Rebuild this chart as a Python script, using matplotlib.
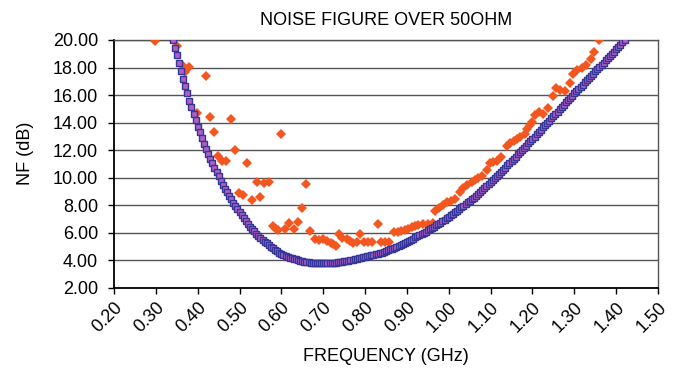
import numpy as np
import matplotlib
matplotlib.use("Agg")
import matplotlib.pyplot as plt
from matplotlib.transforms import ScaledTranslation

plt.rcParams['font.family'] = ['Liberation Sans', 'DejaVu Sans']

# measured NF, scattered points (GHz, dB)
meas_freq = [0.298, 0.351, 0.362, 0.370, 0.380, 0.399, 0.419, 0.429, 0.440, 0.449,
             0.459, 0.468, 0.480, 0.489, 0.499, 0.509, 0.519, 0.530, 0.541, 0.549,
             0.558, 0.570, 0.579, 0.587, 0.593, 0.599, 0.609, 0.618, 0.630, 0.640,
             0.649, 0.659, 0.668, 0.680, 0.690, 0.699, 0.708, 0.718, 0.724, 0.730,
             0.738, 0.746, 0.756, 0.764, 0.772, 0.781, 0.789, 0.797, 0.807, 0.816,
             0.830, 0.839, 0.848, 0.858, 0.869, 0.878, 0.886, 0.895, 0.903, 0.911,
             0.919, 0.927, 0.939, 0.951, 0.962, 0.967, 0.977, 0.987, 0.996, 1.005,
             1.015, 1.027, 1.035, 1.044, 1.055, 1.063, 1.071, 1.079, 1.091, 1.098,
             1.106, 1.116, 1.126, 1.138, 1.146, 1.156, 1.164, 1.170, 1.182, 1.188,
             1.194, 1.198, 1.206, 1.216, 1.226, 1.238, 1.248, 1.256, 1.266, 1.278,
             1.290, 1.296, 1.306, 1.318, 1.328, 1.341, 1.348, 1.360]
meas_nf = [19.90, 19.60, 18.20, 17.65, 18.06, 14.68, 17.36, 14.40, 13.35, 11.60,
           11.24, 11.24, 14.29, 12.00, 8.87, 8.75, 11.10, 8.39, 9.67, 8.63,
           9.60, 9.70, 6.50, 6.26, 6.21, 13.15, 6.28, 6.74, 6.26, 6.79,
           7.83, 9.55, 6.16, 5.53, 5.48, 5.58, 5.41, 5.29, 5.17, 5.05,
           5.90, 5.60, 5.53, 5.41, 5.29, 5.36, 5.92, 5.36, 5.36, 5.36,
           6.67, 5.36, 5.36, 5.36, 6.04, 6.09, 6.16, 6.21, 6.30, 6.40,
           6.50, 6.57, 6.64, 6.64, 6.69, 7.61, 7.78, 8.02, 8.26, 8.34,
           8.44, 8.99, 9.23, 9.47, 9.71, 9.84, 9.96, 10.13, 10.56, 11.05,
           11.17, 11.24, 11.53, 12.30, 12.50, 12.70, 12.80, 12.95, 13.15, 13.54,
           13.83, 14.02, 14.55, 14.75, 14.60, 15.04, 15.96, 16.50, 16.40, 16.30,
           16.90, 17.55, 17.80, 18.00, 18.18, 18.60, 19.10, 20.00]

# calculated NF curve, 5 MHz grid starting at 0.340 GHz
calc_start = 0.34
calc_step = 0.005
calc_nf = [20.00, 19.43, 18.88, 18.30, 17.75, 17.20, 16.65, 16.12, 15.60, 15.12,
           14.65, 14.18, 13.72, 13.30, 12.88, 12.48, 12.08, 11.72, 11.38, 11.05,
           10.73, 10.40, 10.10, 9.80, 9.50, 9.22, 8.95, 8.70, 8.45, 8.20,
           7.95, 7.72, 7.50, 7.27, 7.05, 6.85, 6.65, 6.46, 6.28, 6.11,
           5.95, 5.80, 5.65, 5.51, 5.37, 5.24, 5.12, 5.01, 4.90, 4.77,
           4.65, 4.56, 4.47, 4.40, 4.33, 4.27, 4.21, 4.16, 4.11, 4.07,
           4.03, 3.99, 3.95, 3.92, 3.89, 3.86, 3.84, 3.82, 3.81, 3.80,
           3.79, 3.78, 3.78, 3.78, 3.79, 3.80, 3.81, 3.82, 3.84, 3.86,
           3.88, 3.90, 3.93, 3.96, 3.99, 4.02, 4.06, 4.09, 4.12, 4.15,
           4.19, 4.22, 4.26, 4.29, 4.33, 4.37, 4.41, 4.45, 4.49, 4.53,
           4.57, 4.62, 4.68, 4.74, 4.80, 4.86, 4.93, 4.99, 5.06, 5.13,
           5.20, 5.28, 5.36, 5.44, 5.52, 5.59, 5.67, 5.75, 5.83, 5.91,
           6.00, 6.09, 6.18, 6.27, 6.36, 6.45, 6.55, 6.65, 6.75, 6.85,
           6.95, 7.05, 7.16, 7.27, 7.38, 7.49, 7.61, 7.73, 7.85, 7.97,
           8.10, 8.22, 8.35, 8.45, 8.55, 8.69, 8.82, 8.96, 9.10, 9.24,
           9.39, 9.53, 9.68, 9.83, 9.98, 10.13, 10.28, 10.43, 10.59, 10.74,
           10.90, 11.05, 11.21, 11.37, 11.53, 11.69, 11.85, 12.01, 12.17, 12.33,
           12.50, 12.66, 12.83, 12.99, 13.16, 13.32, 13.49, 13.65, 13.82, 13.98,
           14.15, 14.31, 14.48, 14.64, 14.81, 14.97, 15.14, 15.30, 15.47, 15.63,
           15.80, 15.96, 16.12, 16.28, 16.44, 16.60, 16.76, 16.92, 17.08, 17.24,
           17.40, 17.56, 17.72, 17.88, 18.04, 18.20, 18.36, 18.52, 18.68, 18.84,
           19.00, 19.16, 19.32, 19.48, 19.65, 19.82, 19.98]
calc_freq = calc_start + calc_step * np.arange(len(calc_nf))

x_ticks = np.arange(0.2, 1.501, 0.1)
y_ticks = np.arange(2, 20.01, 2)

W, H = 681, 369
fig = plt.figure(figsize=(W / 100, H / 100), dpi=100)
ax = fig.add_axes([114 / W, 1 - 288 / H, (658 - 114) / W, (288 - 40) / H])

ax.plot(meas_freq, meas_nf, linestyle='none', marker='D', markersize=4.8,
        color='#F4561F', markeredgewidth=0, zorder=3)
ax.plot(calc_freq, calc_nf, linestyle='none', marker='s', markersize=4.4,
        markerfacecolor='#B260BE', markeredgecolor='#35359A',
        markeredgewidth=1.0, zorder=4)

ax.set_xlim(0.2, 1.5)
ax.set_ylim(2, 20)
ax.set_xticks(x_ticks)
ax.set_yticks(y_ticks)
ax.set_xticklabels([f"{v:.2f}" for v in x_ticks])
ax.set_yticklabels([f"{v:.2f}" for v in y_ticks])

ax.grid(axis='y', color='#555555', linewidth=1.0, zorder=0)
ax.set_axisbelow(True)
for s in ['left', 'bottom']:
    ax.spines[s].set_color('black')
    ax.spines[s].set_linewidth(1.3)
for s in ['top', 'right']:
    ax.spines[s].set_color('#555555')
    ax.spines[s].set_linewidth(1.0)

ax.tick_params(axis='both', direction='out', length=4, width=1, color='black',
               labelsize=13)
ax.tick_params(axis='y', pad=7.5)
ax.tick_params(axis='x', pad=8)

off = ScaledTranslation(6 / 100, 0, fig.dpi_scale_trans)
for lab in ax.get_xticklabels():
    lab.set_rotation(45)
    lab.set_ha('right')
    lab.set_va('center')
    lab.set_rotation_mode('anchor')
    lab.set_transform(lab.get_transform() + off)

fig.text(386 / W, 1 - 25 / H, "NOISE FIGURE OVER 50OHM", ha='center',
         va='baseline', fontsize=13)
fig.text(386 / W, 1 - 361 / H, "FREQUENCY (GHz)", ha='center',
         va='baseline', fontsize=13)
fig.text(25 / W, 1 - 153 / H, "NF (dB)", ha='center', va='center',
         rotation=90, fontsize=13)

fig.savefig("out.png", dpi=100)
